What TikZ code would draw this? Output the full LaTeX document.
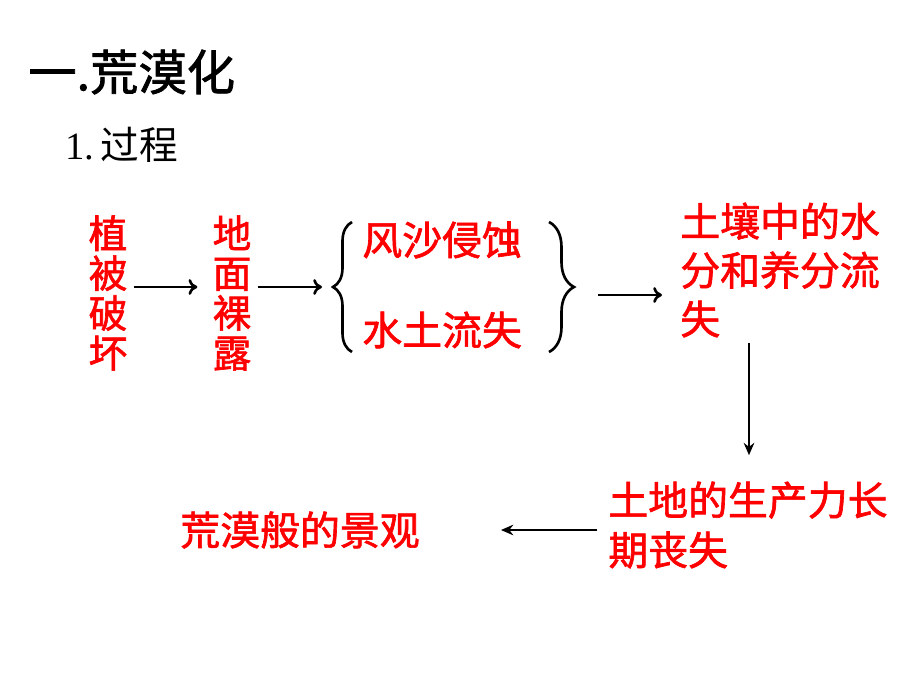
\documentclass[tikz,border=0pt]{standalone}
\usepackage{fontspec}
\setmainfont{Liberation Serif}
\newfontfamily\cjk{Noto Sans CJK SC}
\newfontfamily\cjkb[FakeBold=1.6]{Noto Sans CJK SC}
\usetikzlibrary{arrows.meta,decorations.pathreplacing,calc}
\tikzset{%
  word/.style   = {inner sep=0pt, text=red, anchor=west,%
                   font=\cjkb\fontsize{22.7}{22.7}\selectfont},%
  column/.style = {word, anchor=center, align=center,%
                   font=\cjkb\fontsize{22}{22.7}\selectfont},%
  block/.style  = {word, align=left},%
  arr/.style    = {-{To[length=5pt,width=9pt]}, line width=1.5pt},%
  arrs/.style   = {-{Stealth[length=7pt,width=6pt]}, line width=1.3pt},%
  brc/.style    = {decorate, line width=1.5pt,%
                   decoration={brace, amplitude=#1}}%
}

\begin{document}
\begin{tikzpicture}[x=0.02cm, y=-0.02cm]%
	\fill[white] (0,0) rectangle (920,690);
	\useasboundingbox (0,0) rectangle (920,690);
	% heading
	\node[anchor=west, inner sep=0pt, font=\cjkb\fontsize{27.5}{27.5}\selectfont] (title) at (28,72) {一.荒漠化};
	\node[anchor=west, inner sep=0pt, font=\cjk\fontsize{22}{22}\selectfont] (step) at (65,145) {\textrm{1.}\,过程};
	% chain
	\node[column] (zhibei) at (108,293) {植\\被\\破\\坏};
	\node[column] (dimian) at (232,293) {地\\面\\裸\\露};
	\node[word] (fengsha) at (362,240) {风沙侵蚀};
	\node[word] (shuitu)  at (362,330) {水土流失};
	\node[block, font=\cjkb\fontsize{22.7}{27.8}\selectfont] (turang) at (680,270) {土壤中的水\\分和养分流\\失};
	\node[block, font=\cjkb\fontsize{22.7}{28.4}\selectfont] (tudi) at (608,525) {土地的生产力长\\期丧失};
	\node[word] (huangmo) at (180,530) {荒漠般的景观};
	% braces
	\coordinate (lbb) at (352,352);
	\coordinate (lbt) at (352,222);
	\coordinate (rbt) at (549,222);
	\coordinate (rbb) at (549,352);
	\coordinate (lb)  at (333,287);
	\coordinate (rb)  at (575,287);
	\coordinate (dnx) at (749,0);
	\draw[brc=0.38cm] (lbb) -- (lbt);
	\draw[brc=0.5cm]  (rbt) -- (rbb);
	% arrows
	\draw[arr, shorten <=0.12cm, shorten >=0.3cm] (zhibei.east |- lb) -- (dimian.west |- lb);
	\draw[arr, shorten <=0.12cm, shorten >=0.22cm] (dimian.east |- lb) -- (lb);
	\draw[arr] ($(rb)+(23,8)$) -- ($(turang.west |- rb)+(-18,8)$);
	\draw[arrs, shorten <=0.1cm, shorten >=0.52cm] (turang.south -| dnx) -- (tudi.north -| dnx);
	\draw[arrs, shorten <=0.22cm, shorten >=1.62cm] (tudi.west |- huangmo) -- (huangmo.east);
\end{tikzpicture}
\end{document}
